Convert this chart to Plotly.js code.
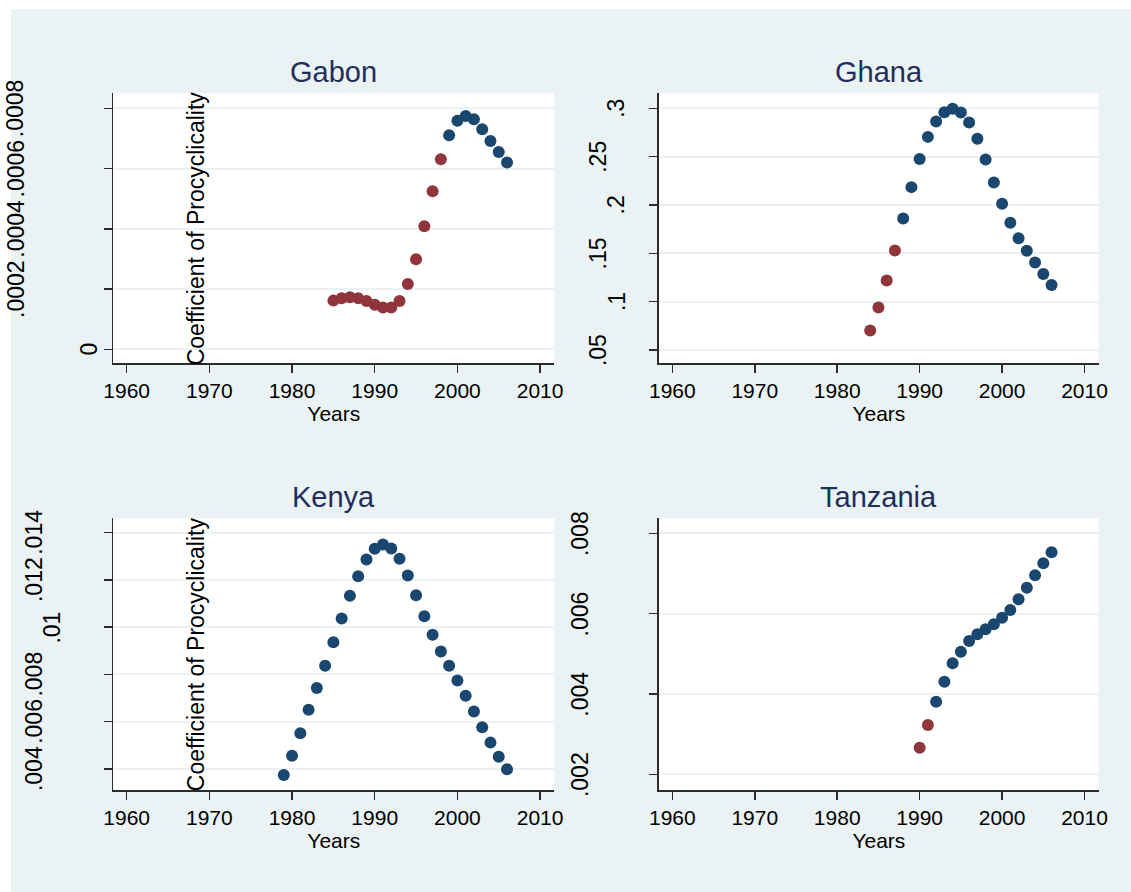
<!DOCTYPE html>
<html><head><meta charset="utf-8">
<script src="https://cdn.plot.ly/plotly-3.0.1.min.js"></script>
<style>html,body{margin:0;padding:0;background:#fff}#chart{width:1131px;height:892px}</style>
</head><body><div id="chart"></div>
<script>
// ---------- DATA ----------
const xTickVals = [1960, 1970, 1980, 1990, 2000, 2010];
const xTickText = ['1960', '1970', '1980', '1990', '2000', '2010'];

const gabonYears = [1985,1986,1987,1988,1989,1990,1991,1992,1993,1994,1995,1996,1997,1998,1999,2000,2001,2002,2003,2004,2005,2006];
const gabonValues = [0.000162,0.000170,0.000173,0.000170,0.000161,0.000148,0.000139,0.000139,0.000161,0.000217,0.000299,0.000409,0.000525,0.000631,0.000711,0.000759,0.000775,0.000764,0.000731,0.000692,0.000655,0.000620];
const gabonGroups = [1,1,1,1,1,1,1,1,1,1,1,1,1,1,0,0,0,0,0,0,0,0];
const gabonTickVals = [0, 0.0002, 0.0004, 0.0006, 0.0008];
const gabonTickText = ['0', '.0002', '.0004', '.0006', '.0008'];

const ghanaYears = [1984,1985,1986,1987,1988,1989,1990,1991,1992,1993,1994,1995,1996,1997,1998,1999,2000,2001,2002,2003,2004,2005,2006];
const ghanaValues = [0.0701,0.094,0.122,0.153,0.186,0.2185,0.2476,0.2705,0.2865,0.296,0.2997,0.2958,0.2854,0.2685,0.247,0.2233,0.2012,0.1817,0.1655,0.1526,0.1405,0.1287,0.1172];
const ghanaGroups = [1,1,1,1,0,0,0,0,0,0,0,0,0,0,0,0,0,0,0,0,0,0,0];
const ghanaTickVals = [0.05, 0.1, 0.15, 0.2, 0.25, 0.3];
const ghanaTickText = ['.05', '.1', '.15', '.2', '.25', '.3'];

const kenyaYears = [1979,1980,1981,1982,1983,1984,1985,1986,1987,1988,1989,1990,1991,1992,1993,1994,1995,1996,1997,1998,1999,2000,2001,2002,2003,2004,2005,2006];
const kenyaValues = [0.003745,0.004564,0.005515,0.006503,0.007424,0.00837,0.009359,0.010364,0.011327,0.012159,0.012867,0.013321,0.013504,0.013334,0.012897,0.012188,0.011353,0.010462,0.009685,0.008977,0.00837,0.007746,0.007097,0.006431,0.005769,0.005116,0.004522,0.003987];
const kenyaGroups = [0,0,0,0,0,0,0,0,0,0,0,0,0,0,0,0,0,0,0,0,0,0,0,0,0,0,0,0];
const kenyaTickVals = [0.004, 0.006, 0.008, 0.01, 0.012, 0.014];
const kenyaTickText = ['.004', '.006', '.008', '.01', '.012', '.014'];

const tanzaniaYears = [1990,1991,1992,1993,1994,1995,1996,1997,1998,1999,2000,2001,2002,2003,2004,2005,2006];
const tanzaniaValues = [0.002662,0.003227,0.003807,0.004305,0.004763,0.005052,0.005318,0.005485,0.00561,0.005734,0.005898,0.00609,0.006357,0.006645,0.006954,0.007253,0.007527];
const tanzaniaGroups = [1,1,0,0,0,0,0,0,0,0,0,0,0,0,0,0,0];
const tanzaniaTickVals = [0.002, 0.004, 0.006, 0.008];
const tanzaniaTickText = ['.002', '.004', '.006', '.008'];

const yTitleText = 'Coefficient of Procyclicality';
const xTitleText = 'Years';

// ---------- LAYOUT / STYLE ----------
const W = 1131, H = 892;
const NAVY = '#1A476F', MAROON = '#90353B', BG = '#EAF2F3', AX = '#2b2b2b', TITLE = '#1F2E5C';
const FONT = '"Liberation Sans", Arial, Helvetica, sans-serif';
const xRange = [1958.38, 2011.72];

const panels = [
  {name: 'Gabon', years: gabonYears, values: gabonValues, groups: gabonGroups,
   tv: gabonTickVals, tt: gabonTickText, yRange: [-0.000046, 0.00085],
   box: {l: 113.3, r: 554.3, t: 93.3, b: 363.3}, showYTitle: true},
  {name: 'Ghana', years: ghanaYears, values: ghanaValues, groups: ghanaGroups,
   tv: ghanaTickVals, tt: ghanaTickText, yRange: [0.0362, 0.3156],
   box: {l: 659, r: 1098.7, t: 93.3, b: 363.3}, showYTitle: false},
  {name: 'Kenya', years: kenyaYears, values: kenyaValues, groups: kenyaGroups,
   tv: kenyaTickVals, tt: kenyaTickText, yRange: [0.003111, 0.014609],
   box: {l: 113.3, r: 554.3, t: 518.3, b: 790}, showYTitle: true},
  {name: 'Tanzania', years: tanzaniaYears, values: tanzaniaValues, groups: tanzaniaGroups,
   tv: tanzaniaTickVals, tt: tanzaniaTickText, yRange: [0.001609, 0.008373],
   box: {l: 659, r: 1098.7, t: 518.3, b: 790}, showYTitle: false}
];

const px = v => v / W;
const py = v => 1 - v / H;

const traces = [];
const layout = {
  width: W, height: H,
  margin: {l: 0, r: 0, t: 0, b: 0, pad: 0},
  paper_bgcolor: BG, plot_bgcolor: '#ffffff',
  showlegend: false,
  font: {family: FONT, color: '#000'},
  annotations: [],
  shapes: [
    {type: 'rect', xref: 'paper', yref: 'paper', x0: 0, x1: px(11), y0: 0, y1: 1, fillcolor: '#ffffff', line: {width: 0}, layer: 'below'},
    {type: 'rect', xref: 'paper', yref: 'paper', x0: 0, x1: 1, y0: py(9), y1: 1, fillcolor: '#ffffff', line: {width: 0}, layer: 'below'}
  ]
};

panels.forEach((p, i) => {
  const n = i + 1;
  const xa = n === 1 ? 'x' : 'x' + n, ya = n === 1 ? 'y' : 'y' + n;
  const xk = n === 1 ? 'xaxis' : 'xaxis' + n, yk = n === 1 ? 'yaxis' : 'yaxis' + n;
  [[1, MAROON], [0, NAVY]].forEach(([g, col]) => {
    const xs = [], ys = [];
    p.years.forEach((yr, j) => { if (p.groups[j] === g) { xs.push(yr); ys.push(p.values[j]); } });
    if (xs.length) traces.push({
      type: 'scatter', mode: 'markers', x: xs, y: ys, xaxis: xa, yaxis: ya,
      marker: {color: col, size: 12, line: {width: 0}}, hoverinfo: 'x+y', name: p.name
    });
  });
  layout[xk] = {
    domain: [px(p.box.l), px(p.box.r)], anchor: ya, range: xRange,
    tickmode: 'array', tickvals: xTickVals, ticktext: xTickText,
    ticks: 'outside', ticklen: 8, tickwidth: 1.5, tickcolor: AX,
    tickfont: {family: FONT, size: 21, color: '#000'},
    showline: true, linecolor: AX, linewidth: 1.8, showgrid: false, zeroline: false,
    title: {text: xTitleText, font: {family: FONT, size: 21, color: '#000'}, standoff: 2}
  };
  layout[yk] = {
    domain: [py(p.box.b), py(p.box.t)], anchor: xa, range: p.yRange,
    tickmode: 'array', tickvals: p.tv, ticktext: p.tt, showticklabels: false,
    ticks: 'outside', ticklen: 8, tickwidth: 1.5, tickcolor: AX,
    showline: true, linecolor: AX, linewidth: 1.8,
    showgrid: true, gridcolor: BG, gridwidth: 2, zeroline: false
  };
  // panel title
  layout.annotations.push({
    xref: 'paper', yref: 'paper', x: px((p.box.l + p.box.r) / 2), y: py(p.box.t - 21),
    xanchor: 'center', yanchor: 'middle', showarrow: false, text: p.name,
    font: {family: FONT, size: 29, color: TITLE}
  });
  // rotated y tick labels (Stata-style placement)
  p.tv.forEach((v, j) => {
    const t = p.tt[j];
    layout.annotations.push({
      xref: 'paper', yref: ya, x: px(p.box.l - 6 - 18.3 * t.length), y: v,
      xanchor: 'center', yanchor: 'middle', showarrow: false, textangle: -90, text: t,
      font: {family: FONT, size: 23, color: '#000'}
    });
  });
  if (p.showYTitle) {
    layout.annotations.push({
      xref: 'paper', yref: 'paper', x: px(196), y: py((p.box.t + p.box.b) / 2),
      xanchor: 'center', yanchor: 'middle', showarrow: false, textangle: -90, text: yTitleText,
      font: {family: FONT, size: 23, color: '#000'}
    });
  }
});

Plotly.newPlot('chart', traces, layout, {displayModeBar: false, staticPlot: true});
</script>
</body></html>
